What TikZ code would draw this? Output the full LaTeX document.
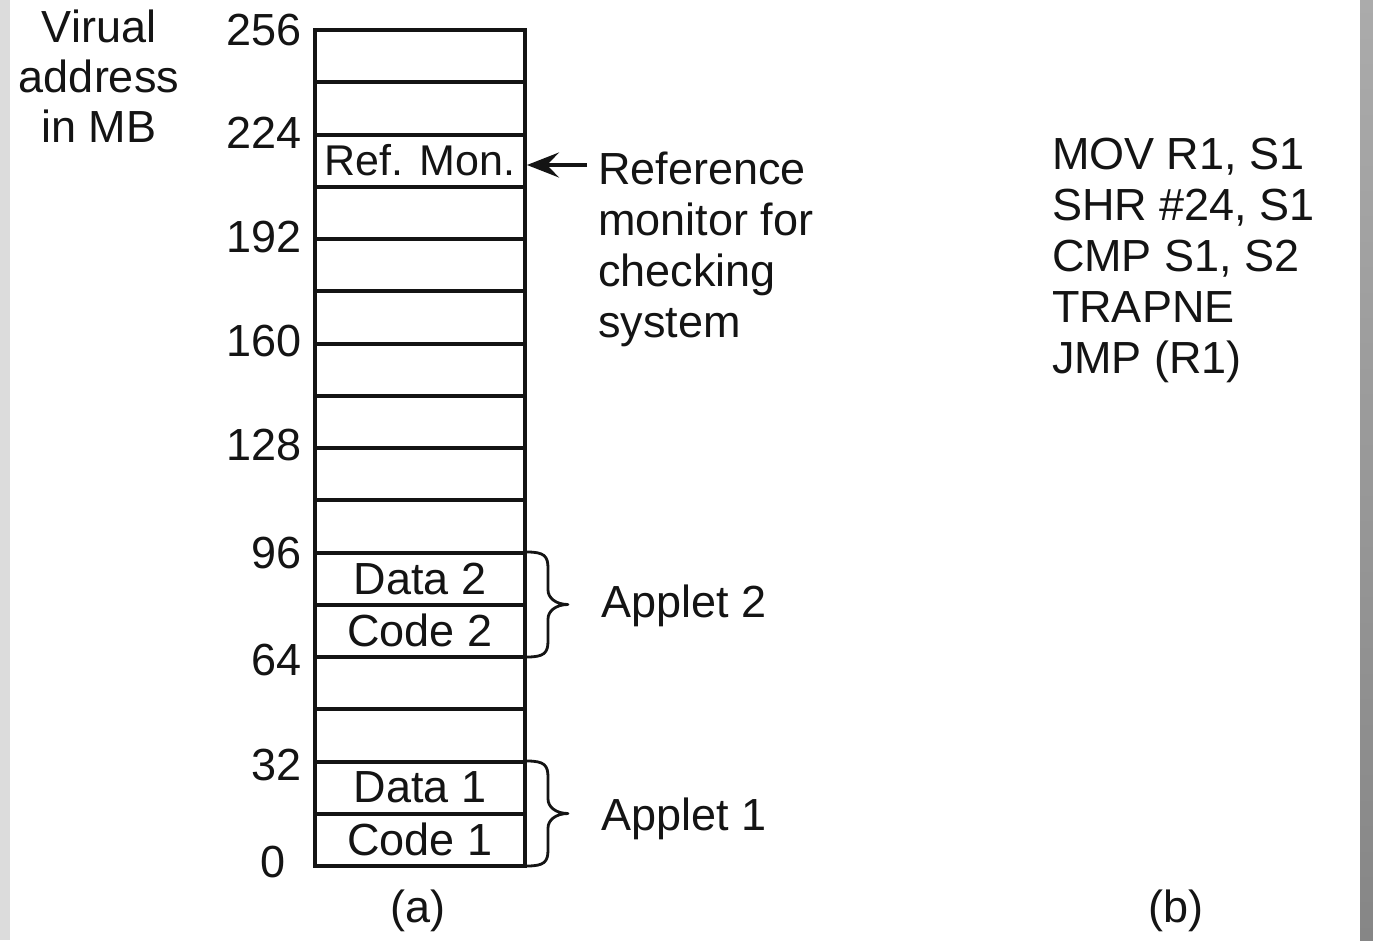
\documentclass[tikz,border=0pt]{standalone}
\usepackage{fontspec}
\setmainfont{Liberation Sans}
\usetikzlibrary{arrows.meta}
\definecolor{ink}{HTML}{141414}
\definecolor{sideL}{HTML}{DCDCDC}
\definecolor{sideRtop}{HTML}{ABABAB}
\definecolor{sideRbot}{HTML}{868686}
\begin{document}
\begin{tikzpicture}[x=1pt,y=-1pt,
  txt/.style={font=\fontsize{45pt}{51pt}\selectfont, text=ink, inner sep=0pt, outer sep=0pt},
  cell/.style={draw=ink, line width=4pt, minimum width=210pt, minimum height=52.25pt,
               inner sep=0pt, font=\fontsize{45pt}{51pt}\selectfont, text=ink},
  addr/.style={txt, anchor=base east},
  brace/.style={draw=ink, line width=2.8pt, line cap=round, line join=round},
  pointer/.style={draw=ink, line width=3.5pt, -{Stealth[length=32pt, width=25pt, inset=12pt]}}]

% page and shaded side edges
\useasboundingbox (0,0) rectangle (1373,940);
\fill[white] (0,0) rectangle (1373,940);
\fill[sideL] (0,0) rectangle (10,940);
\shade[top color=sideRtop, bottom color=sideRbot] (1360,0) rectangle (1373,940);

% axis title
\node[txt, anchor=base] (t1) at (99,42) {Virual};
\node[txt, anchor=base] (t2) at (99,92) {address};
\node[txt, anchor=base] (t3) at (99,142) {in MB};

% address space: 16 cells of 16 MB each
\foreach \k in {1,2,4,5,6,7,8,9,10,13,14}
  \node[cell] (c\k) at (420, 30+52.25*\k-26.125) {};
\node[cell, font=\fontsize{43pt}{51pt}\selectfont] (c3) at (420, 30+52.25*3-26.125) {Ref. Mon.};
\node[cell] (c11) at (420, 30+52.25*11-26.125) {Data 2};
\node[cell] (c12) at (420, 30+52.25*12-26.125) {Code 2};
\node[cell] (c15) at (420, 30+52.25*15-26.125) {Data 1};
\node[cell] (c16) at (420, 30+52.25*16-26.125) {Code 1};

% address labels every 32 MB
\node[addr] (a256) at (302,45)  {256};
\node[addr] (a224) at (302,148) {224};
\node[addr] (a192) at (302,252) {192};
\node[addr] (a160) at (302,356) {160};
\node[addr] (a128) at (302,460) {128};
\node[addr] (a96)  at (302,568) {96};
\node[addr] (a64)  at (302,675) {64};
\node[addr] (a32)  at (302,780) {32};
\node[addr] (a0)   at (286,877) {0};

% reference monitor annotation
\node[txt, anchor=base west] (r1) at (598,184) {Reference};
\node[txt, anchor=base west] (r2) at (598,235) {monitor for};
\node[txt, anchor=base west] (r3) at (598,286) {checking};
\node[txt, anchor=base west] (r4) at (598,337) {system};
\coordinate (rtail) at (587,165);
\draw[pointer] (rtail) -- (c3.east |- rtail);

% applet braces
\draw[brace] (527,552) .. controls (544,552) and (548,556) .. (548,568) -- (548,590)
  .. controls (548,598) and (556,604.5) .. (568,604.5)
  .. controls (556,604.5) and (548,611) .. (548,619) -- (548,641)
  .. controls (548,653) and (544,657) .. (527,657);
\draw[brace] (527,761) .. controls (544,761) and (548,765) .. (548,777) -- (548,799)
  .. controls (548,807) and (556,813.5) .. (568,813.5)
  .. controls (556,813.5) and (548,820) .. (548,828) -- (548,850)
  .. controls (548,862) and (544,866) .. (527,866);
\node[txt, anchor=base west] (ap2) at (601,617) {Applet 2};
\node[txt, anchor=base west] (ap1) at (601,830) {Applet 1};

% check sequence
\node[txt, anchor=base west] (i1) at (1052,169) {MOV R1, S1};
\node[txt, anchor=base west] (i2) at (1052,220) {SHR \#24, S1};
\node[txt, anchor=base west] (i3) at (1052,271) {CMP S1, S2};
\node[txt, anchor=base west] (i4) at (1052,322) {TRAPNE};
\node[txt, anchor=base west] (i5) at (1052,373) {JMP (R1)};

% sub-figure captions
\node[txt, anchor=base] (capa) at (418,922) {(a)};
\node[txt, anchor=base] (capb) at (1176,922) {(b)};
\end{tikzpicture}
\end{document}
